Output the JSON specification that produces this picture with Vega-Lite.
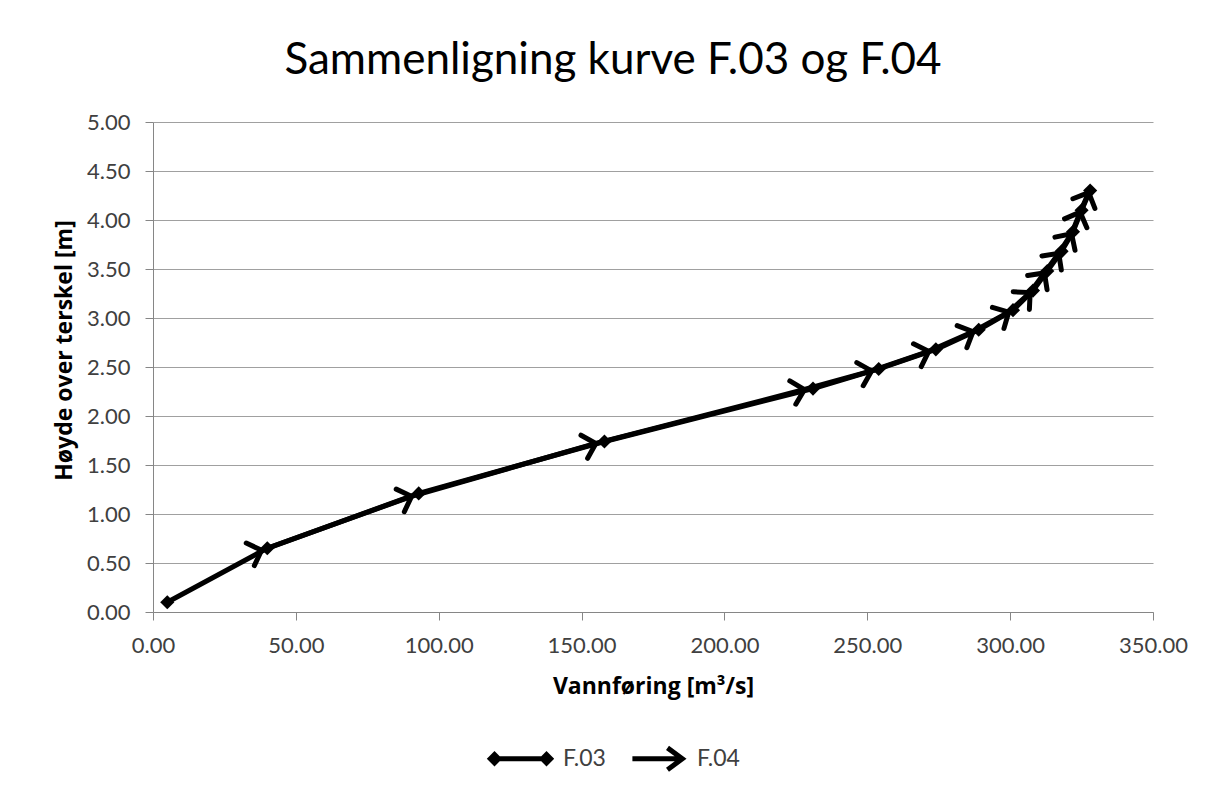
{
  "$schema": "https://vega.github.io/schema/vega-lite/v6.json",
  "width": 1000,
  "height": 490,
  "autosize": {"type": "none"},
  "padding": {"left": 153, "top": 122, "right": 59, "bottom": 182},
  "background": "white",
  "title": {"text": "Sammenligning kurve F.03 og F.04", "font": "Lato", "fontSize": 44, "fontWeight": "normal", "color": "#000000", "anchor": "middle", "dx": -40, "offset": 28},
  "config": {"view": {"stroke": null}},
  "data": {"values": [
    {"series": "F.03", "q": 5, "h": 0.10},
    {"series": "F.03", "q": 40, "h": 0.65},
    {"series": "F.03", "q": 93, "h": 1.21},
    {"series": "F.03", "q": 158, "h": 1.74},
    {"series": "F.03", "q": 231, "h": 2.28},
    {"series": "F.03", "q": 254, "h": 2.48},
    {"series": "F.03", "q": 274, "h": 2.68},
    {"series": "F.03", "q": 289, "h": 2.88},
    {"series": "F.03", "q": 301, "h": 3.08},
    {"series": "F.03", "q": 308, "h": 3.28},
    {"series": "F.03", "q": 313, "h": 3.48},
    {"series": "F.03", "q": 318, "h": 3.68},
    {"series": "F.03", "q": 322, "h": 3.88},
    {"series": "F.03", "q": 325, "h": 4.10},
    {"series": "F.03", "q": 328, "h": 4.30},
    {"series": "F.04", "q": 38, "h": 0.63},
    {"series": "F.04", "q": 90.5, "h": 1.18},
    {"series": "F.04", "q": 155, "h": 1.72},
    {"series": "F.04", "q": 228, "h": 2.27},
    {"series": "F.04", "q": 251.5, "h": 2.46},
    {"series": "F.04", "q": 271.5, "h": 2.66},
    {"series": "F.04", "q": 287, "h": 2.86},
    {"series": "F.04", "q": 299.5, "h": 3.06},
    {"series": "F.04", "q": 307, "h": 3.26},
    {"series": "F.04", "q": 312, "h": 3.46},
    {"series": "F.04", "q": 317, "h": 3.66},
    {"series": "F.04", "q": 321.5, "h": 3.86},
    {"series": "F.04", "q": 324.5, "h": 4.08},
    {"series": "F.04", "q": 327.5, "h": 4.28}
  ]},
  "encoding": {
    "x": {"field": "q", "type": "quantitative", "scale": {"domain": [0, 350], "nice": false},
      "axis": {"values": [0, 50, 100, 150, 200, 250, 300, 350], "format": ".2f", "title": "Vannføring [m³/s]",
        "labelFont": "Lato", "labelFontSize": 22, "labelColor": "#404040", "labelPadding": 15, "labelFlush": false,
        "titleFont": "Open Sans", "titleFontSize": 23, "titleFontWeight": "bold", "titleColor": "#000000", "titlePadding": 19,
        "grid": false, "domainColor": "#868686", "tickColor": "#868686", "tickSize": 8}},
    "y": {"field": "h", "type": "quantitative", "scale": {"domain": [0, 5], "nice": false},
      "axis": {"values": [0, 0.5, 1, 1.5, 2, 2.5, 3, 3.5, 4, 4.5, 5], "format": ".2f", "title": "Høyde over terskel [m]",
        "labelFont": "Lato", "labelFontSize": 22, "labelColor": "#404040", "labelPadding": 15,
        "titleFont": "Open Sans", "titleFontSize": 23, "titleFontWeight": "bold", "titleColor": "#000000", "titlePadding": 10, "titleY": 228,
        "grid": true, "gridColor": "#a0a0a0", "domainColor": "#868686", "tickColor": "#868686", "tickSize": 8}}
  },
  "layer": [
    {
      "mark": {"type": "line", "strokeWidth": 5, "strokeCap": "butt", "strokeJoin": "round"},
      "encoding": {
        "color": {"field": "series", "type": "nominal",
          "scale": {"domain": ["F.03", "F.04"], "range": ["#000000", "#000000"]},
          "legend": {"orient": "none", "legendX": 339, "legendY": 608, "direction": "horizontal", "title": null,
            "symbolSize": 2704, "symbolStrokeWidth": 5, "labelFont": "Lato", "labelFontSize": 23, "labelColor": "#404040",
            "labelOffset": 14, "columnPadding": 16,
            "encode": {"symbols": {"update": {
              "shape": {"signal": "datum.value === 'F.03' ? 'M-1,0L1,0M-1.16,0L-1,-0.16L-0.84,0L-1,0.16ZM0.84,0L1,-0.16L1.16,0L1,0.16ZM0,-0.42L0,-0.42M0,0.42L0,0.42' : 'M-0.85,0L1.07,0M0.5,-0.42L1.07,0L0.5,0.42'"},
              "fill": {"signal": "datum.value === 'F.03' ? 'black' : 'transparent'"},
              "stroke": {"value": "black"},
              "strokeWidth": {"value": 5},
              "opacity": {"value": 1}
            }}}}},
        "order": {"field": "q"}
      }
    },
    {
      "transform": [{"filter": "datum.series === 'F.03'"}],
      "mark": {"type": "point", "shape": "diamond", "filled": true, "size": 200, "color": "#000000", "opacity": 1}
    },
    {
      "transform": [
        {"filter": "datum.series === 'F.04'"},
        {"window": [{"op": "lag", "field": "q", "as": "pq"}, {"op": "lag", "field": "h", "as": "ph"}, {"op": "lead", "field": "q", "as": "nq"}, {"op": "lead", "field": "h", "as": "nh"}],
         "sort": [{"field": "q"}], "frame": [null, null]},
        {"calculate": "-atan2((isValid(datum.ph) ? datum.h - datum.ph : datum.nh - datum.h) * 98, (isValid(datum.pq) ? datum.q - datum.pq : datum.nq - datum.q) * 2.857) * 180 / PI", "as": "ang"}
      ],
      "mark": {"type": "point", "shape": "M-1,-1L0,0L-1,1", "filled": false, "size": 576, "strokeWidth": 5, "color": "#000000", "opacity": 1, "strokeCap": "round", "strokeJoin": "miter"},
      "encoding": {"angle": {"field": "ang", "type": "quantitative", "scale": null}}
    }
  ]
}
